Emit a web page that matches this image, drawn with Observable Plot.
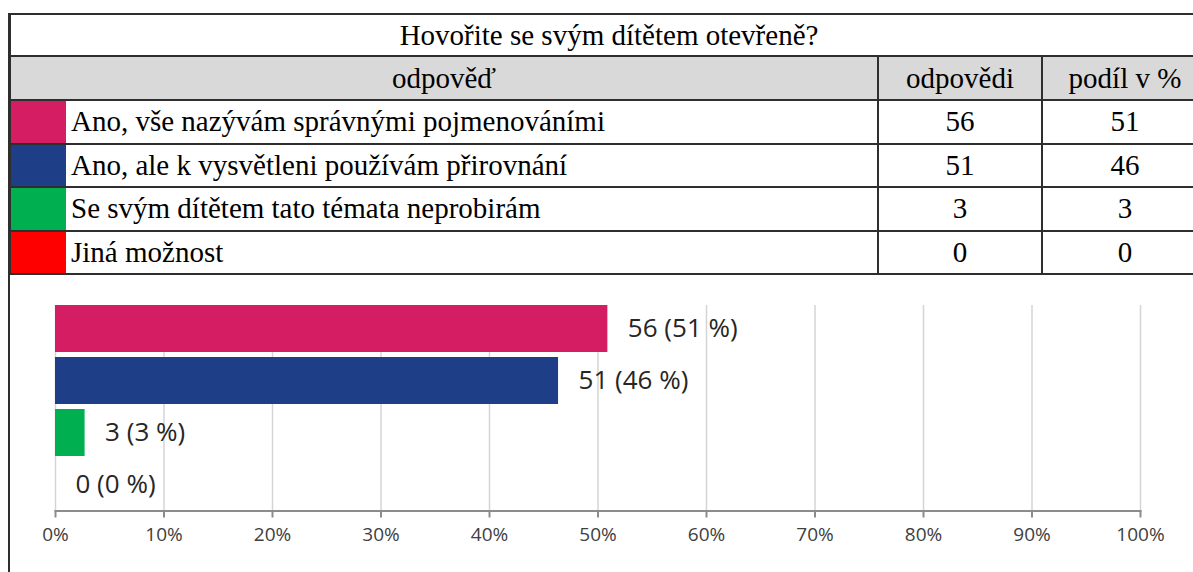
<!DOCTYPE html>
<html>
<head>
<meta charset="utf-8">
<script src="https://cdn.jsdelivr.net/npm/d3@7"></script>
<script src="https://cdn.jsdelivr.net/npm/@observablehq/plot@0.6"></script>
<style>
  html, body { margin: 0; padding: 0; background: #fff; }
  body { width: 1193px; height: 572px; overflow: hidden; position: relative; }
  #tbl { position: absolute; left: 9px; top: 13px; width: 1198px; border-collapse: collapse; table-layout: fixed;
         font-family: "Liberation Serif", "Times New Roman", serif; font-size: 29px; color: #000; }
  #tbl td { border: 2px solid #2e2e2e; padding: 0 5px; white-space: nowrap; overflow: hidden; vertical-align: middle; }
  #tbl td.sw { border-right: none; padding: 0; }
  #tbl td.lab { border-left: none; text-align: left; }
  #tbl td.num { text-align: center; }
  #tbl tr.title td { text-align: center; height: 40px; background: #fff; }
  #tbl tr.head td { text-align: center; height: 42px; background: #d9d9d9; }
  #tbl tr.row td { height: 41.5px; }
  #leftline { position: absolute; left: 8px; top: 13px; width: 2px; height: 600px; background: #2e2e2e; z-index: 5; }
  #chart { position: absolute; left: 0; top: 277px; }
</style>
</head>
<body>
<table id="tbl"></table>
<div id="chart"></div>
<div id="leftline"></div>
<script>
// ---- data ----
const title = "Hovořite se svým dítětem otevřeně?";
const headers = ["odpověď", "odpovědi", "podíl v %"];
const answers = [
  "Ano, vše nazývám správnými pojmenováními",
  "Ano, ale k vysvětleni používám přirovnání",
  "Se svým dítětem tato témata neprobirám",
  "Jiná možnost"
];
const counts = [56, 51, 3, 0];
const colors = ["#d41d62", "#1e3f88", "#00b050", "#ff0000"];
const tickValues = [0, 10, 20, 30, 40, 50, 60, 70, 80, 90, 100];
const tickLabels = ["0%", "10%", "20%", "30%", "40%", "50%", "60%", "70%", "80%", "90%", "100%"];

const total = d3.sum(counts);
const data = answers.map((a, i) => ({
  answer: a,
  count: counts[i],
  share: counts[i] / total * 100,
  pct: Math.round(counts[i] / total * 100)
}));

// ---- table ----
const tbl = d3.select("#tbl");
const cg = tbl.append("colgroup");
[56, 812, 164, 166].forEach(w => cg.append("col").style("width", w + "px"));
tbl.append("tr").attr("class", "title").append("td").attr("colspan", 4).text(title);
const hr = tbl.append("tr").attr("class", "head");
hr.append("td").attr("colspan", 2).text(headers[0]);
hr.append("td").text(headers[1]);
hr.append("td").text(headers[2]);
data.forEach((d, i) => {
  const tr = tbl.append("tr").attr("class", "row");
  tr.append("td").attr("class", "sw").style("background", colors[i]);
  tr.append("td").attr("class", "lab").text(d.answer);
  tr.append("td").attr("class", "num").text(d.count);
  tr.append("td").attr("class", "num").text(d.pct);
});

// ---- chart ----
const chart = Plot.plot({
  width: 1193,
  height: 295,
  marginLeft: 55,
  marginRight: 53,
  marginTop: 25.5,
  marginBottom: 61.5,
  style: { background: "transparent", fontFamily: "'Open Sans', sans-serif", overflow: "visible" },
  x: { domain: [0, 100], label: null },
  y: { domain: answers, paddingInner: 0.1, paddingOuter: 0.05, axis: null },
  color: { domain: answers, range: colors },
  marks: [
    Plot.gridX(tickValues, { stroke: "#d4d4d4", strokeOpacity: 1, strokeWidth: 1.5, insetTop: 2.6 }),
    Plot.frame({ anchor: "bottom", stroke: "#8c8c8c", strokeWidth: 2 }),
    Plot.axisX(tickValues, {
      label: null,
      tickSize: 7, tickPadding: 9,
      tickFormat: d => tickLabels[tickValues.indexOf(d)],
      fontSize: 19, fill: "#404040", stroke: "#8c8c8c", strokeWidth: 2
    }),
    Plot.barX(data, { x: "share", y: "answer", fill: "answer" }),
    Plot.text(data, {
      x: "share", y: "answer",
      text: d => `${d.count} (${d.pct} %)`,
      textAnchor: "start", dx: 20, fontSize: 26, fill: "#262626",
      fontFamily: "'Open Sans', sans-serif"
    })
  ]
});
document.getElementById("chart").appendChild(chart);
</script>
</body>
</html>
